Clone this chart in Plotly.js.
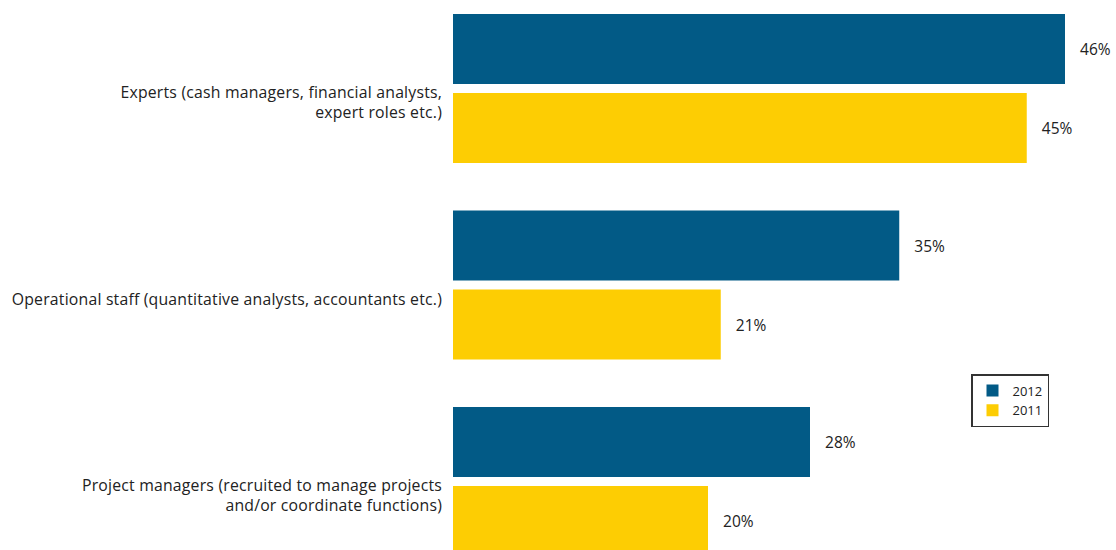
<!DOCTYPE html>
<html>
<head>
<meta charset="utf-8">
<script src="https://cdn.plot.ly/plotly-3.0.1.min.js"></script>
<style>
html,body{margin:0;padding:0;background:#fff;}
#chart{width:1116px;height:550px;}
#chart .ytick text{letter-spacing:0.2px;}
</style>
</head>
<body>
<div id="chart"></div>
<script>
var categories = [
  "Experts (cash managers, financial analysts,<br>expert roles etc.)",
  "Operational staff (quantitative analysts, accountants etc.)",
  "Project managers (recruited to manage projects<br>and/or coordinate functions)"
];
// bar lengths as drawn in the picture
var values2012 = [48, 35, 28];
var values2011 = [45, 21, 20];
// value labels as printed
var labels2012 = ["46%", "35%", "28%"];
var labels2011 = ["45%", "21%", "20%"];

var pad = "\u00a0\u00a0\u00a0";
var fam = "'Open Sans', sans-serif";
var font = {family: fam, size: 15.8, color: "#222222"};
var valFont = {family: fam, size: 15.5, color: "#222222"};

var slot = 196.5; // px per category
var barW = 70 / slot;

var traces = [
  {type: "bar", orientation: "h", name: "2012", y: categories, x: values2012,
   width: barW, offset: -74.5 / slot,
   marker: {color: "#025a86"}, text: labels2012.map(function(t){return pad + t;}),
   textposition: "outside", cliponaxis: false, textfont: valFont, hoverinfo: "none"},
  {type: "bar", orientation: "h", name: "2011", y: categories, x: values2011,
   width: barW, offset: 4.5 / slot,
   marker: {color: "#fdcd03"}, text: labels2011.map(function(t){return pad + t;}),
   textposition: "outside", cliponaxis: false, textfont: valFont, hoverinfo: "none"}
];

var layout = {
  width: 1116, height: 550,
  margin: {l: 453, r: 0, t: 0, b: 0, pad: 0},
  paper_bgcolor: "#ffffff", plot_bgcolor: "#ffffff",
  barmode: "overlay",
  font: font,
  xaxis: {range: [0, 52], visible: false, fixedrange: true},
  yaxis: {type: "category", range: [2.3486, -0.4504], showgrid: false, zeroline: false,
          showline: false, ticks: "", ticklabelstandoff: 10, ticklabelshift: -14,
          tickfont: font, fixedrange: true},
  showlegend: true,
  legend: {xref: "paper", yref: "paper", xanchor: "left", yanchor: "top",
           x: (971 - 453) / 663, y: 1 - 374 / 550,
           bordercolor: "#333333", borderwidth: 1.5, bgcolor: "#ffffff",
           font: {family: fam, size: 13, color: "#222222"},
           traceorder: "normal", itemwidth: 30}
};

Plotly.newPlot("chart", traces, layout, {displayModeBar: false, staticPlot: true});
</script>
</body>
</html>
